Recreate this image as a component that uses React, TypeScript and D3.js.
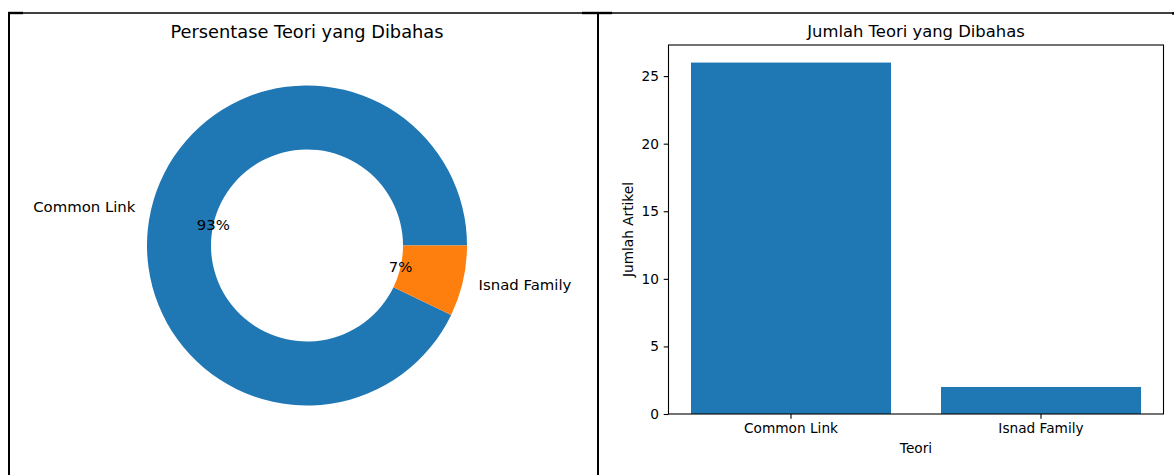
import { useEffect, useRef } from "react";
import * as d3 from "d3";

// Data
const teori = ["Common Link", "Isnad Family"];
const jumlahArtikel = [26, 2];
const yTicks = [0, 5, 10, 15, 20, 25];
const pieColors = ["#1f77b4", "#ff7f0e"];

const FONT = "DejaVu Sans, Verdana, sans-serif";

export default function App() {
  const svgRef = useRef<SVGSVGElement>(null);

  useEffect(() => {
    document.body.style.margin = "0";
    if (!svgRef.current) return;

    const svg = d3.select(svgRef.current);
    svg.selectAll("*").remove();

    svg.append("rect").attr("width", 1174).attr("height", 475).attr("fill", "#fff");

    // Frame (table borders around the two figures)
    const frame = svg.append("g").attr("stroke", "#000").attr("fill", "none");
    frame.append("line").attr("x1", 8).attr("x2", 1174).attr("y1", 13).attr("y2", 13).attr("stroke-width", 1.6);
    frame.append("line").attr("x1", 9).attr("x2", 9).attr("y1", 12).attr("y2", 475).attr("stroke-width", 2);
    frame.append("line").attr("x1", 598).attr("x2", 598).attr("y1", 12).attr("y2", 475).attr("stroke-width", 2);
    frame.append("line").attr("x1", 8).attr("x2", 23).attr("y1", 13).attr("y2", 13).attr("stroke-width", 2.4);
    frame.append("line").attr("x1", 582).attr("x2", 612).attr("y1", 13).attr("y2", 13).attr("stroke-width", 2.4);
    frame.append("line").attr("x1", 1173).attr("x2", 1173).attr("y1", 12).attr("y2", 15).attr("stroke-width", 1.4);

    // ---------- Left: donut chart ----------
    const cx = 307;
    const cy = 245.5;
    const r = 160;
    const total = d3.sum(jumlahArtikel);

    const left = svg.append("g").attr("font-family", FONT);

    left
      .append("text")
      .attr("x", cx)
      .attr("y", 38)
      .attr("text-anchor", "middle")
      .attr("font-size", 17.8)
      .attr("fill", "#000")
      .text("Persentase Teori yang Dibahas");

    // matplotlib: start at 3 o'clock, counter-clockwise
    const pie = d3
      .pie<number>()
      .sort(null)
      .startAngle(Math.PI / 2)
      .endAngle(Math.PI / 2 - 2 * Math.PI);
    const arcs = pie(jumlahArtikel);

    const arc = d3.arc<d3.PieArcDatum<number>>().innerRadius(r * 0.6).outerRadius(r);
    const labelArc = d3.arc<d3.PieArcDatum<number>>().innerRadius(r * 1.1).outerRadius(r * 1.1);
    const pctArc = d3.arc<d3.PieArcDatum<number>>().innerRadius(r * 0.6).outerRadius(r * 0.6);

    const donut = left.append("g").attr("transform", `translate(${cx},${cy})`);

    donut
      .selectAll("path")
      .data(arcs)
      .join("path")
      .attr("d", arc)
      .attr("fill", (_, i) => pieColors[i]);

    donut
      .selectAll("text.label")
      .data(arcs)
      .join("text")
      .attr("class", "label")
      .attr("x", (d) => labelArc.centroid(d)[0])
      .attr("y", (d) => labelArc.centroid(d)[1])
      .attr("dy", "0.36em")
      .attr("text-anchor", (d) => (labelArc.centroid(d)[0] < 0 ? "end" : "start"))
      .attr("font-size", 14.9)
      .attr("fill", "#000")
      .text((_, i) => teori[i]);

    donut
      .selectAll("text.pct")
      .data(arcs)
      .join("text")
      .attr("class", "pct")
      .attr("x", (d) => pctArc.centroid(d)[0])
      .attr("y", (d) => pctArc.centroid(d)[1])
      .attr("dy", "0.36em")
      .attr("text-anchor", "middle")
      .attr("font-size", 14.9)
      .attr("fill", "#000")
      .text((d) => `${Math.round((d.value / total) * 100)}%`);

    // ---------- Right: bar chart ----------
    const ax = { left: 668.5, right: 1163.5, top: 45, bottom: 414 };
    const fs = 13.7;

    const x = d3
      .scaleBand<string>()
      .domain(teori)
      .range([ax.left, ax.right])
      .paddingInner(0.2)
      .paddingOuter(0.09);
    const y = d3
      .scaleLinear()
      .domain([0, d3.max(jumlahArtikel)! * 1.05])
      .range([ax.bottom, ax.top]);

    const right = svg.append("g").attr("font-family", FONT);

    right
      .selectAll("rect.bar")
      .data(jumlahArtikel)
      .join("rect")
      .attr("class", "bar")
      .attr("x", (_, i) => x(teori[i])!)
      .attr("y", (d) => y(d))
      .attr("width", x.bandwidth())
      .attr("height", (d) => y(0) - y(d))
      .attr("fill", "#1f77b4");

    // Axes box
    right
      .append("rect")
      .attr("x", ax.left)
      .attr("y", ax.top)
      .attr("width", ax.right - ax.left)
      .attr("height", ax.bottom - ax.top)
      .attr("fill", "none")
      .attr("stroke", "#000")
      .attr("stroke-width", 1.1);

    // Y axis
    const yAxis = right
      .append("g")
      .attr("transform", `translate(${ax.left},0)`)
      .call(d3.axisLeft(y).tickValues(yTicks).tickSize(4.8).tickPadding(4.8).tickFormat(d3.format("d")));
    yAxis.select(".domain").remove();
    yAxis.selectAll("line").attr("stroke", "#000").attr("stroke-width", 1.1);
    yAxis.selectAll("text").attr("font-size", fs).attr("font-family", FONT).attr("fill", "#000");

    // X axis
    const xAxis = right
      .append("g")
      .attr("transform", `translate(0,${ax.bottom})`)
      .call(d3.axisBottom(x).tickSize(4.8).tickPadding(4.8));
    xAxis.select(".domain").remove();
    xAxis.selectAll("line").attr("stroke", "#000").attr("stroke-width", 1.1);
    xAxis.selectAll("text").attr("font-size", fs).attr("font-family", FONT).attr("fill", "#000");

    right
      .append("text")
      .attr("x", (ax.left + ax.right) / 2)
      .attr("y", 37)
      .attr("text-anchor", "middle")
      .attr("font-size", 16.4)
      .attr("fill", "#000")
      .text("Jumlah Teori yang Dibahas");

    right
      .append("text")
      .attr("x", (ax.left + ax.right) / 2)
      .attr("y", 453)
      .attr("text-anchor", "middle")
      .attr("font-size", fs)
      .attr("fill", "#000")
      .text("Teori");

    right
      .append("text")
      .attr("transform", `translate(633,${(ax.top + ax.bottom) / 2}) rotate(-90)`)
      .attr("text-anchor", "middle")
      .attr("font-size", fs)
      .attr("fill", "#000")
      .text("Jumlah Artikel");
  }, []);

  return (
    <div style={{ width: 1174, height: 475 }}>
      <svg ref={svgRef} width={1174} height={475} style={{ display: "block" }} />
    </div>
  );
}
